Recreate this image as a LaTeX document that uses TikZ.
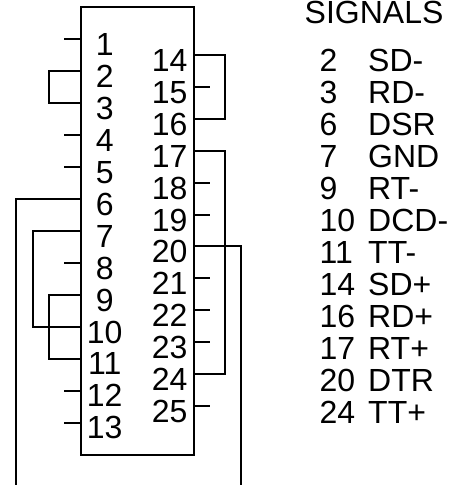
\documentclass[tikz,border=0pt]{standalone}
\usepackage{fontspec}
\setmainfont{Liberation Sans}
\begin{document}
\begin{tikzpicture}[x=1pt,y=-1pt,
  wire/.style={line width=2.4pt,line cap=butt,line join=miter},
  lbll/.style={font=\fontsize{32}{32}\selectfont,inner sep=0pt,anchor=base},
  lblr/.style={font=\fontsize{32}{32}\selectfont,inner sep=0pt,anchor=base east},
  sig/.style={font=\fontsize{32}{32}\selectfont,inner sep=0pt,anchor=base west}]
\useasboundingbox (0,0) rectangle (463,485);
\node[draw,line width=2.4pt,minimum width=113pt,inner sep=0pt,anchor=north west,minimum height=448pt] (box) at (80,6) {};
\foreach \n/\y/\b in {1/39/55,2/71/87,3/103/119,4/135/151,5/167/183,6/199/215,7/231/247,8/263/279,9/295/311,10/327/343,11/359/374,12/391/406,13/423/438}{
  \coordinate (L\n) at (80,\y);
  \node[lbll] (tl\n) at (104.7,\b) {\n};
}
\foreach \n/\y/\b in {14/55/71,15/87/103,16/119/135,17/151/167,18/183/199,19/215/231,20/246/262,21/278/294,22/310/326,23/342/358,24/374/390,25/406/422}{
  \coordinate (R\n) at (193,\y);
  \node[lblr] (tr\n) at (187.7,\b) {\n};
}
\coordinate (a6) at (16,485);
\coordinate (a20) at (241,485);
\foreach \n in {1,4,5,8,12,13}{ \draw[wire] (L\n) -- ++(-16.5,0); }
\foreach \n in {15,18,19,21,22,23,25}{ \draw[wire] (R\n) -- ++(16.5,0); }
\draw[wire] (L2) -| (49,103) -- (L3);
\draw[wire] (L9) -| (49,359) -- (L11);
\draw[wire] (L7) -| (33,327) -- (L10);
\draw[wire] (L6) -| (a6);
\draw[wire] (R14) -| (225,119) -- (R16);
\draw[wire] (R17) -| (225,374) -- (R24);
\draw[wire] (R20) -| (a20);
\node[sig] (title) at (304.5,23.8) {SIGNALS};
\foreach \n/\s/\y in {2/SD-/71,3/RD-/103,6/DSR/135,7/GND/167,9/RT-/199,10/DCD-/231.5,11/TT-/263,14/SD+/295,16/RD+/327,17/RT+/359,20/DTR/391,24/TT+/423}{
  \node[sig] (n\n) at (319.5,\y) {\n};
  \node[sig] (s\n) at (368,\y) {\s};
}
\end{tikzpicture}
\end{document}
